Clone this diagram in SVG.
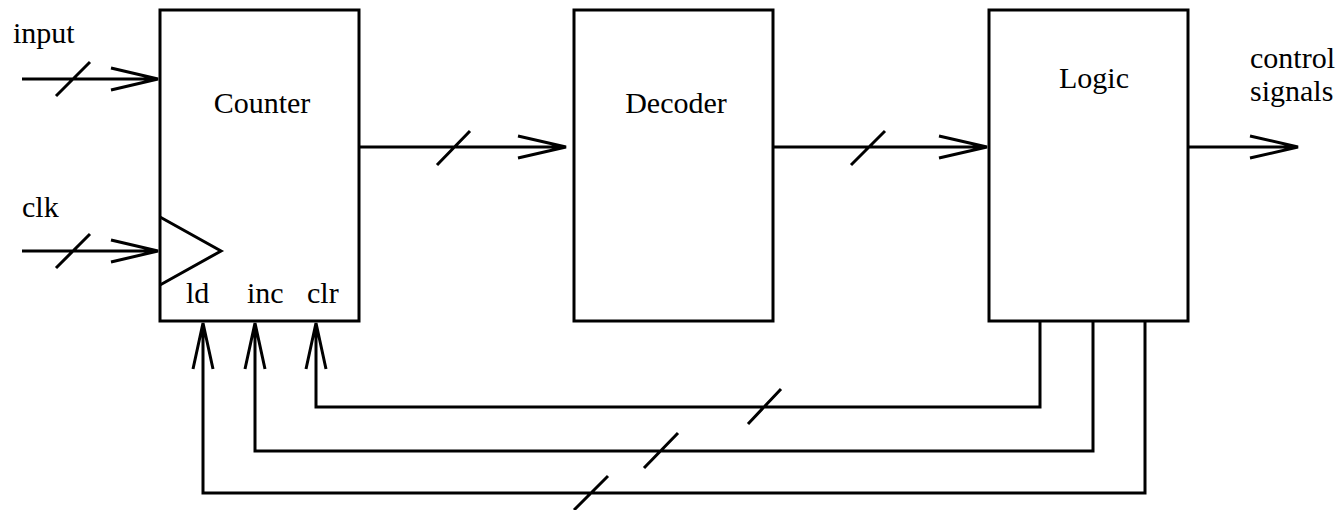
<svg xmlns="http://www.w3.org/2000/svg" width="1340" height="510" viewBox="0 0 1340 510">
<style>
.box{fill:#fff;stroke:#000;stroke-width:3}
.w{fill:none;stroke:#000;stroke-width:3;stroke-linecap:butt;stroke-linejoin:miter}
.t{font-family:"Liberation Serif","Times New Roman",serif;font-size:30px;fill:#000}
</style>
<rect width="1340" height="510" fill="#fff"/>
<g id="counter">
<rect class="box" x="160" y="10" width="199" height="311"/>
<text class="t" x="262" y="113" text-anchor="middle">Counter</text>
<polyline class="w" points="160,217 221,251 160,285"/>
<text class="t" x="186" y="303">ld</text>
<text class="t" x="247" y="303">inc</text>
<text class="t" x="307" y="303">clr</text>
</g>
<g id="decoder">
<rect class="box" x="574" y="10" width="199" height="311"/>
<text class="t" x="676" y="113" text-anchor="middle">Decoder</text>
</g>
<g id="logic">
<rect class="box" x="989" y="10" width="199" height="311"/>
<text class="t" x="1094" y="88" text-anchor="middle">Logic</text>
</g>
<g id="labels">
<text class="t" x="13" y="43">input</text>
<text class="t" x="22" y="217">clk</text>
<text class="t" x="1250" y="68">control</text>
<text class="t" x="1250" y="101">signals</text>
</g>
<g id="connectors">
<!-- input -->
<path class="w" d="M22,79 H158 M111,68 L158,79 L111,90 M56,96 L90,62"/>
<!-- clk -->
<path class="w" d="M22,251 H158 M111,240 L158,251 L111,262 M56,268 L90,234"/>
<!-- counter to decoder -->
<path class="w" d="M359,147 H566 M518,136 L566,147 L518,158 M437,165 L470,131"/>
<!-- decoder to logic -->
<path class="w" d="M773,147 H987 M939,136 L987,147 L939,158 M851,165 L885,131"/>
<!-- logic out -->
<path class="w" d="M1188,147 H1298 M1250,136 L1298,147 L1250,158"/>
<!-- clr feedback -->
<path class="w" d="M1040,321 V407 H316 V323 M306,369 L316,323 L326,369 M748,424 L781,389"/>
<!-- inc feedback -->
<path class="w" d="M1093,321 V451 H255 V323 M245,369 L255,323 L265,369 M644,468 L678,433"/>
<!-- ld feedback -->
<path class="w" d="M1145,321 V493 H203 V323 M193,369 L203,323 L213,369 M574,510 L608,476"/>
</g>
</svg>
